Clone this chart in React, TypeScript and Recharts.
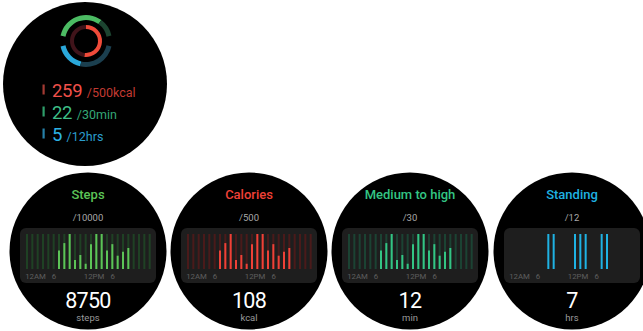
import { BarChart, Bar, XAxis, YAxis, PieChart, Pie, Cell } from "recharts";

// hourly buckets, 12AM .. 11PM
const hourSlots = [0, 1, 2, 3, 4, 5, 6, 7, 8, 9, 10, 11, 12, 13, 14, 15, 16, 17, 18, 19, 20, 21, 22, 23];
// share of the peak hour (steps, calories and intensity follow the same shape)
const activityByHour = [0, 0, 0, 0, 0, 0, 53, 74, 100, 26, 40, 15, 71, 100, 100, 53, 71, 38, 49, 60, 0, 0, 0, 0];
const standingByHour = [0, 0, 0, 0, 0, 0, 0, 1, 1, 0, 0, 0, 1, 1, 1, 0, 0, 1, 1, 0, 0, 0, 0, 0];
const tickHours = [0, 5, 11, 16];
const tickLabels = ["12AM", "6", "12PM", "6"];

const cardTitles = ["Steps", "Calories", "Medium to high", "Standing"];
const cardGoals = ["/10000", "/500", "/30", "/12"];
const cardTotals = ["8750", "108", "12", "7"];
const cardUnits = ["steps", "kcal", "min", "hrs"];

const ringValues = [259, 22, 5];
const ringGoals = [500, 30, 12];
const ringUnits = ["kcal", "min", "hrs"];

const FONT = "Roboto, 'Noto Sans', sans-serif";
const CARD_X = [88, 249, 410, 572];
const CARD_Y = 251;
const CARD_R = 78.5;

const cardColors = [
  { title: "#5cc457", bar: "#5cc457", track: "#1f4124" },
  { title: "#ee4137", bar: "#ee4137", track: "#4a1a1a" },
  { title: "#33c584", bar: "#33c584", track: "#1b4333" },
  { title: "#1fb2e3", bar: "#1fb2e3", track: "" },
];

const rowColors = [
  { big: "#f0504a", small: "#c23a32", mark: "#a33a33" },
  { big: "#3dbf86", small: "#34a877", mark: "#2e9e6a" },
  { big: "#2db2e4", small: "#2a9dcc", mark: "#2680a8" },
];

function HourTick(props: any) {
  const idx = tickHours.indexOf(props.payload.value);
  if (idx < 0) return <g />;
  return (
    <text x={props.x - 1.5} y={props.y + 10} fontSize={7.8} fill="#5f5f5f" fontFamily={FONT}>
      {tickLabels[idx]}
    </text>
  );
}

function HourBars({ values, max, color, track }: { values: number[]; max: number; color: string; track: string }) {
  // the track is the full-height groove drawn behind every hour
  const rows = hourSlots.map((h, i) => ({ hour: h, value: values[i], track: max }));
  return (
    <BarChart width={136} height={55} data={rows} margin={{ top: 6, right: 4, bottom: 0, left: 4 }} barGap={-2}>
      <XAxis
        dataKey="hour"
        interval={0}
        tickLine={false}
        axisLine={false}
        tickSize={0}
        tickMargin={0}
        height={14}
        tick={HourTick}
      />
      <YAxis hide domain={[0, max]} />
      {track ? <Bar dataKey="track" fill={track} barSize={2} isAnimationActive={false} /> : null}
      <Bar dataKey="value" fill={color} barSize={2} isAnimationActive={false} />
    </BarChart>
  );
}

function Rings() {
  const cal = [
    { name: "done", v: ringValues[0] },
    { name: "left", v: ringGoals[0] - ringValues[0] },
  ];
  const act = [
    { name: "done", v: ringValues[1] },
    { name: "left", v: ringGoals[1] - ringValues[1] },
  ];
  const stand = [
    { name: "done", v: ringValues[2] },
    { name: "left", v: ringGoals[2] - ringValues[2] },
  ];
  return (
    <PieChart width={60} height={60} margin={{ top: 0, right: 0, bottom: 0, left: 0 }}>
      <Pie data={act} dataKey="v" cx={30} cy={30} innerRadius={21} outerRadius={26} startAngle={168} endAngle={12} stroke="none" isAnimationActive={false}>
        <Cell fill="#4cbb63" />
        <Cell fill="#1c4430" />
      </Pie>
      <Pie data={stand} dataKey="v" cx={30} cy={30} innerRadius={21} outerRadius={26} startAngle={192} endAngle={348} stroke="none" isAnimationActive={false}>
        <Cell fill="#2aa8da" />
        <Cell fill="#1b3f4f" />
      </Pie>
      <Pie data={cal} dataKey="v" cx={30} cy={30} innerRadius={12} outerRadius={16} startAngle={90} endAngle={-270} stroke="none" isAnimationActive={false}>
        <Cell fill="#f04b3a" />
        <Cell fill="#40141a" />
      </Pie>
    </PieChart>
  );
}

export default function App() {
  const rowY = [96.5, 118.5, 140.5];
  return (
    <div style={{ position: "absolute", left: 0, top: 0, width: 643, height: 331, background: "#fff", overflow: "hidden" }}>
      <svg width={643} height={331} style={{ position: "absolute", left: 0, top: 0 }}>
        {/* summary face */}
        <circle cx={85} cy={84} r={82} fill="#000" />
        {ringValues.map((v, i) => (
          <g key={i} fontFamily={FONT}>
            <rect x={42.5} y={rowY[i] - 12} width={2.2} height={10} fill={rowColors[i].mark} />
            <text x={52} y={rowY[i]} fontSize={18.5} letterSpacing={-0.3} fill={rowColors[i].big}>
              {v}
              <tspan dx={4.5} fontSize={12.5} letterSpacing={0} fill={rowColors[i].small}>
                /{ringGoals[i]}
                {ringUnits[i]}
              </tspan>
            </text>
          </g>
        ))}

        {/* detail faces */}
        {cardTitles.map((t, i) => {
          const cx = CARD_X[i];
          return (
            <g key={t} fontFamily={FONT}>
              <circle cx={cx} cy={CARD_Y} r={CARD_R} fill="#000" />
              <rect x={cx - 68} y={228} width={136} height={55} rx={6} fill="#1e1e1e" />
              <text x={cx} y={198.5} fontSize={13} fontWeight={500} textAnchor="middle" fill={cardColors[i].title}>
                {t}
              </text>
              <text x={cx} y={221} fontSize={9.5} textAnchor="middle" fill="#a8a8a8">
                {cardGoals[i]}
              </text>
              <text x={cx} y={308} fontSize={21.5} letterSpacing={-0.7} textAnchor="middle" fill="#fff">
                {cardTotals[i]}
              </text>
              <text x={cx} y={320.5} fontSize={9.5} textAnchor="middle" fill="#9a9a9a">
                {cardUnits[i]}
              </text>
            </g>
          );
        })}
      </svg>

      <div style={{ position: "absolute", left: 56, top: 11 }}>
        <Rings />
      </div>

      {CARD_X.map((cx, i) => (
        <div key={i} style={{ position: "absolute", left: cx - 68, top: 228 }}>
          <HourBars
            values={i === 3 ? standingByHour : activityByHour}
            max={i === 3 ? 1 : 100}
            color={cardColors[i].bar}
            track={cardColors[i].track}
          />
        </div>
      ))}
    </div>
  );
}
